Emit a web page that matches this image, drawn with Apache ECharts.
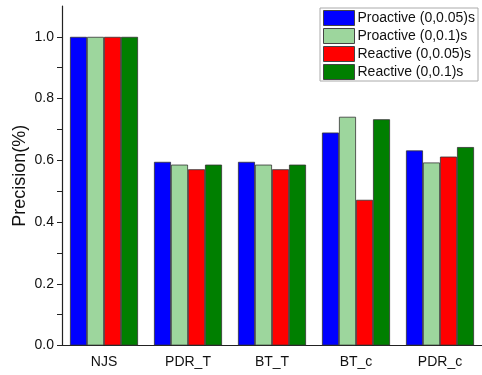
<!DOCTYPE html>
<html>
<head>
<meta charset="utf-8">
<script src="https://cdn.jsdelivr.net/npm/echarts@6/dist/echarts.min.js"></script>
<style>
  html, body { margin: 0; padding: 0; background: #fff; }
  #chart { width: 482px; height: 375px; }
</style>
</head>
<body>
<div id="chart"></div>
<script>
// Precision per method for each strategy / interval
const categories = ['NJS', 'PDR_T', 'BT_T', 'BT_c', 'PDR_c'];
const seriesNames = ['Proactive (0,0.05)s', 'Proactive (0,0.1)s', 'Reactive (0,0.05)s', 'Reactive (0,0.1)s'];
const proactive005 = [1.0, 0.595, 0.595, 0.690, 0.632];
const proactive01  = [1.0, 0.586, 0.586, 0.741, 0.593];
const reactive005  = [1.0, 0.571, 0.571, 0.472, 0.612];
const reactive01   = [1.0, 0.586, 0.586, 0.733, 0.643];
const yTickLabels = ['0.0', '0.2', '0.4', '0.6', '0.8', '1.0'];

const seriesValues = [proactive005, proactive01, reactive005, reactive01];
const colors = ['#0000ff', '#9dd69d', '#ff0000', '#007f00'];
const font = 'Liberation Sans, Arial, sans-serif';

const chart = echarts.init(document.getElementById('chart'));
chart.setOption({
  animation: false,
  grid: { left: 62, right: 0, top: 6, bottom: 29.5, containLabel: false, outerBoundsMode: 'none' },
  legend: {
    data: seriesNames,
    orient: 'vertical',
    right: 4, top: 8,
    icon: 'rect',
    itemWidth: 31, itemHeight: 15, itemGap: 2,
    padding: [2, 3, 1, 3],
    borderColor: '#aaa', borderWidth: 1, backgroundColor: '#fff',
    textStyle: { fontFamily: font, fontSize: 14, color: '#111', padding: [0, 0, 0, -2] },
    itemStyle: { borderColor: '#444', borderWidth: 1 }
  },
  xAxis: [{
    type: 'category',
    data: categories,
    axisLine: { lineStyle: { color: '#222', width: 1.2 } },
    axisTick: { alignWithLabel: true, length: 5, lineStyle: { color: '#222' } },
    axisLabel: { fontFamily: font, fontSize: 14, color: '#111', margin: 10 }
  }, {
    type: 'category',
    data: categories,
    position: 'bottom',
    axisLine: { show: false },
    axisTick: { length: 3, lineStyle: { color: '#222' } },
    axisLabel: { show: false }
  }],
  yAxis: {
    type: 'value',
    min: 0, max: 1.1, interval: 0.1,
    name: 'Precision(%)',
    nameLocation: 'middle',
    nameGap: 33,
    nameMoveOverlap: false,
    nameTextStyle: { fontFamily: font, fontSize: 18, color: '#111' },
    axisLine: { show: true, lineStyle: { color: '#222', width: 1.2 } },
    axisTick: { show: true, length: 5, lineStyle: { color: '#222' } },
    splitLine: { show: false },
    axisLabel: {
      fontFamily: font, fontSize: 14, color: '#111', margin: 8,
      formatter: function (v) {
        const s = v.toFixed(1);
        return yTickLabels.indexOf(s) >= 0 && Math.abs(v * 10 % 2) < 1e-6 ? s : '';
      },
      showMaxLabel: false
    }
  },
  series: seriesValues.map(function (vals, i) {
    return {
      name: seriesNames[i],
      type: 'bar',
      data: vals,
      barGap: '0%',
      barCategoryGap: '19%',
      itemStyle: { color: colors[i], borderColor: '#333', borderWidth: 0.8 }
    };
  })
});
</script>
</body>
</html>
